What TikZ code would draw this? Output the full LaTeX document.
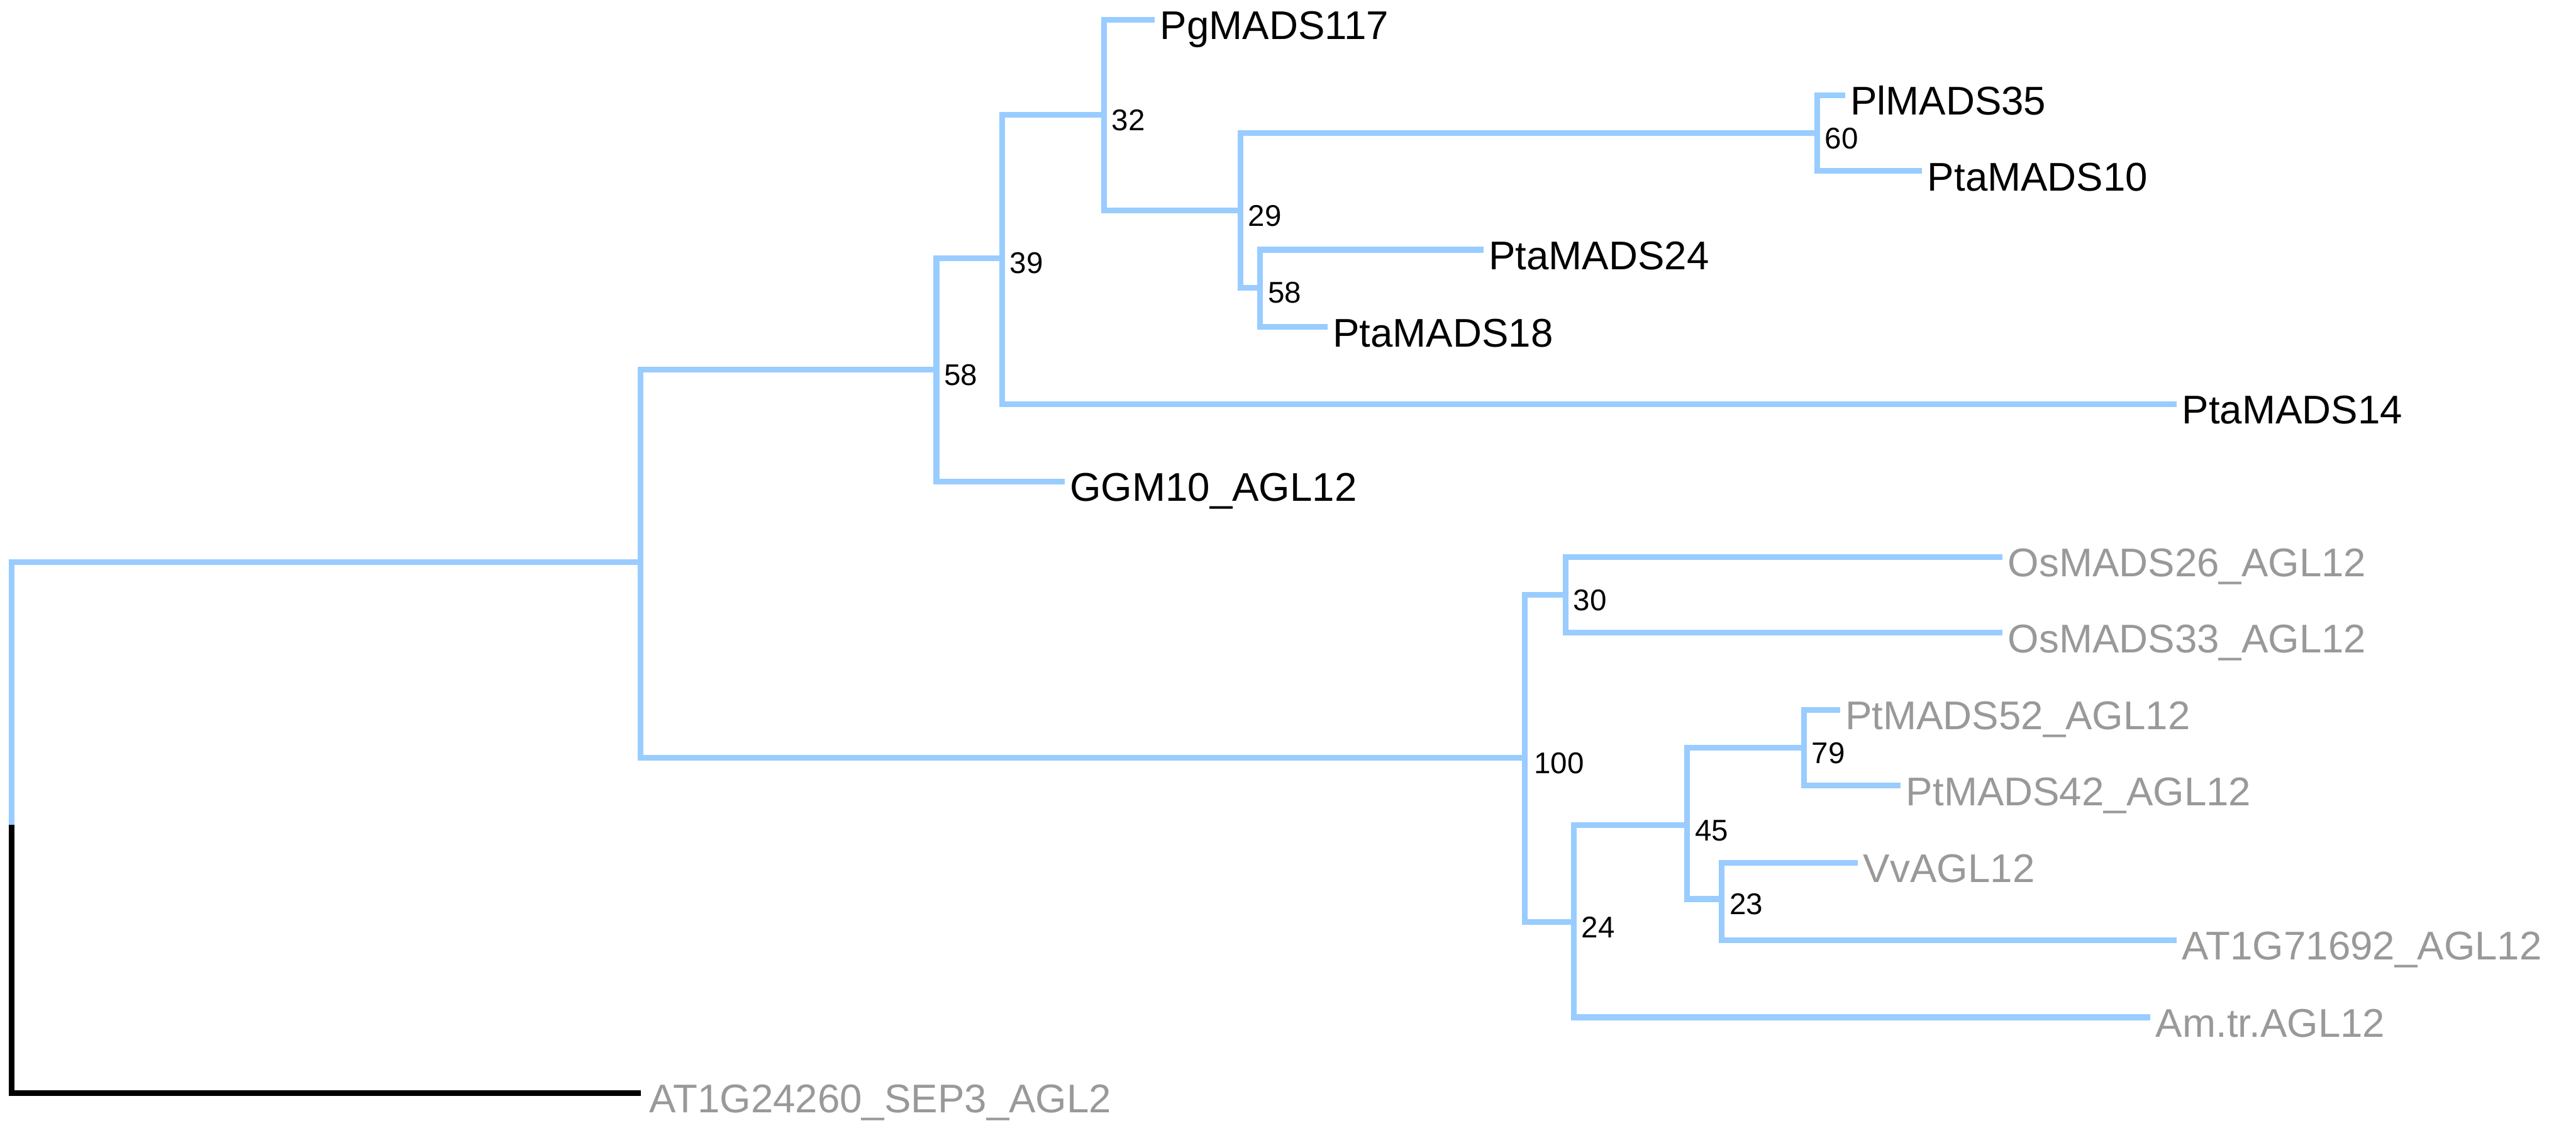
\documentclass[tikz,border=0pt]{standalone}
\usepackage{fontspec}
\setmainfont{Liberation Sans}
\definecolor{branch}{RGB}{153,204,255}
\definecolor{greytext}{RGB}{153,153,153}
\begin{document}
\begin{tikzpicture}[x=0.027985cm,y=-0.027985cm,
  br/.style={draw=branch,line width=2.8pt},
  og/.style={draw=black,line width=2.8pt},
  leafb/.style={anchor=base west,inner sep=0pt,font=\fontsize{19.4}{20}\selectfont,text=black},
  leafg/.style={leafb,text=greytext},
  boot/.style={anchor=base west,inner sep=0pt,font=\fontsize{14.5}{15}\selectfont,text=black}]
\useasboundingbox (0,0) rectangle (1568,683);
% internal nodes (x of vertical, y of incoming branch)
\coordinate (root) at (7,502);
\coordinate (A) at (390,342);
\coordinate (B) at (570,225);
\coordinate (C) at (610,157);
\coordinate (D) at (672,70);
\coordinate (E) at (755,128);
\coordinate (F) at (1106,81);
\coordinate (G) at (767,175);
\coordinate (H) at (928,461);
\coordinate (I) at (953,362);
\coordinate (J) at (958,561);
\coordinate (K) at (1027,502);
\coordinate (L) at (1098,455);
\coordinate (M) at (1048,547);
% leaf ends
\coordinate (eOut) at (390,665);
\coordinate (eGGM) at (648,293);
\coordinate (e14) at (1325,246);
\coordinate (e117) at (703,12);
\coordinate (e35) at (1123,58);
\coordinate (e10) at (1170,104);
\coordinate (e24) at (903,152);
\coordinate (e18) at (808,199);
\coordinate (eOs26) at (1219,339);
\coordinate (eOs33) at (1219,385);
\coordinate (eAm) at (1309,619);
\coordinate (e52) at (1120,432);
\coordinate (e42) at (1157,478);
\coordinate (eVv) at (1131,525);
\coordinate (eAT) at (1325,572);
% branches
\draw[og] (root) |- (eOut);
\draw[br] (root) |- (A);
\draw[br] (A) |- (B);
\draw[br] (A) |- (H);
\draw[br] (B) |- (C);
\draw[br] (B) |- (eGGM);
\draw[br] (C) |- (D);
\draw[br] (C) |- (e14);
\draw[br] (D) |- (e117);
\draw[br] (D) |- (E);
\draw[br] (E) |- (F);
\draw[br] (E) |- (G);
\draw[br] (F) |- (e35);
\draw[br] (F) |- (e10);
\draw[br] (G) |- (e24);
\draw[br] (G) |- (e18);
\draw[br] (H) |- (I);
\draw[br] (H) |- (J);
\draw[br] (I) |- (eOs26);
\draw[br] (I) |- (eOs33);
\draw[br] (J) |- (K);
\draw[br] (J) |- (eAm);
\draw[br] (K) |- (L);
\draw[br] (K) |- (M);
\draw[br] (L) |- (e52);
\draw[br] (L) |- (e42);
\draw[br] (M) |- (eVv);
\draw[br] (M) |- (eAT);
% leaf labels
\node[leafg] (lOut) at (395,677) {AT1G24260\_SEP3\_AGL2};
\node[leafb] (lGGM) at (651,305) {GGM10\_AGL12};
\node[leafb] (l14) at (1328,258) {PtaMADS14};
\node[leafb] (l117) at (706,24) {PgMADS117};
\node[leafb] (l35) at (1126,70) {PlMADS35};
\node[leafb] (l10) at (1173,116) {PtaMADS10};
\node[leafb] (l24) at (906,164) {PtaMADS24};
\node[leafb] (l18) at (811,211) {PtaMADS18};
\node[leafg] (lOs26) at (1222,351) {OsMADS26\_AGL12};
\node[leafg] (lOs33) at (1222,397) {OsMADS33\_AGL12};
\node[leafg] (lAm) at (1312,631) {Am.tr.AGL12};
\node[leafg] (l52) at (1123,444) {PtMADS52\_AGL12};
\node[leafg] (l42) at (1160,490) {PtMADS42\_AGL12};
\node[leafg] (lVv) at (1134,537) {VvAGL12};
\node[leafg] (lAT) at (1328,584) {AT1G71692\_AGL12};
% bootstrap values
\node[boot] (bB) at (574.5,234.5) {58};
\node[boot] (bC) at (614.5,166.5) {39};
\node[boot] (bD) at (676.5,79.5) {32};
\node[boot] (bE) at (759.5,137.5) {29};
\node[boot] (bF) at (1110.5,90.5) {60};
\node[boot] (bG) at (771.5,184.5) {58};
\node[boot] (bH) at (933.5,470.5) {100};
\node[boot] (bI) at (957.5,371.5) {30};
\node[boot] (bJ) at (962.5,570.5) {24};
\node[boot] (bK) at (1031.5,511.5) {45};
\node[boot] (bL) at (1102.5,464.5) {79};
\node[boot] (bM) at (1052.5,556.5) {23};
\end{tikzpicture}
\end{document}
